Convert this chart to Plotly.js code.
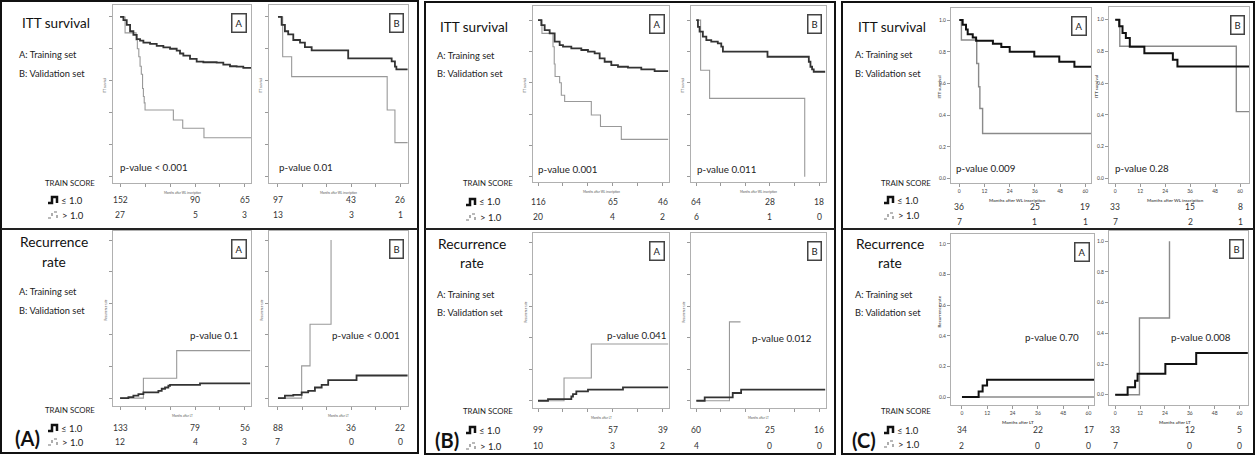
<!DOCTYPE html>
<html><head><meta charset="utf-8">
<script src="https://cdn.plot.ly/plotly-3.0.1.min.js"></script>
<style>html,body{margin:0;padding:0;background:#fff}#chart{width:1256px;height:456px}</style>
</head><body><div id="chart"></div>
<script>
// ---------- DATA ----------
const riskTimes = [0, 36, 60];
const xTicks = [0, 12, 24, 36, 48, 60];
const yTicks = [0, 0.2, 0.4, 0.6, 0.8, 1.0];

// Panel (A)
const A_itt_trn_le_t = [0,1.6,3.2,4.8,6.4,8,9.6,11.2,14.4,17.6,20.8,24,27.2,28.8,30.4,33.6,36.8,40,46.4,49.6,52.8,56,59.2,63];
const A_itt_trn_le_s = [1,0.98,0.95,0.91,0.887,0.86,0.851,0.838,0.83,0.818,0.809,0.80,0.788,0.77,0.757,0.736,0.719,0.715,0.713,0.70,0.69,0.687,0.68,0.677];
const A_itt_trn_gt_t = [0,2.4,7.7,8.3,9,9.6,10.2,10.8,11.2,11.6,12,25.6,30.1,40.3,63];
const A_itt_trn_gt_s = [1,0.9,0.855,0.80,0.75,0.69,0.64,0.55,0.50,0.46,0.415,0.352,0.30,0.24,0.24];
const A_itt_val_le_t = [0,1.8,3.4,5.0,7.5,10.8,13.2,16.5,34.4,55.7,57.3,58,63.5];
const A_itt_val_le_s = [1,0.95,0.91,0.89,0.855,0.838,0.81,0.79,0.74,0.72,0.687,0.67,0.67];
const A_itt_val_gt_t = [0,2.3,6.7,53.5,57.3,63.5];
const A_itt_val_gt_s = [1,0.75,0.625,0.415,0.21,0.21];
const A_rec_trn_le_t = [0,4,6.4,8.8,11.2,18.4,20,21.6,23.2,24,38.4,62.5];
const A_rec_trn_le_s = [0,0.006,0.015,0.025,0.036,0.046,0.059,0.067,0.078,0.084,0.093,0.093];
const A_rec_trn_gt_t = [0,11.2,27.2,62.5];
const A_rec_trn_gt_s = [0,0.126,0.30,0.30];
const A_rec_val_le_t = [0,3.4,7.5,11.6,14.8,18.1,21.4,24.6,38.5,63.5];
const A_rec_val_le_s = [0,0.015,0.02,0.036,0.046,0.067,0.084,0.114,0.143,0.143];
const A_rec_val_gt_t = [0,11.6,15.7,26];
const A_rec_val_gt_s = [0,0.204,0.467,1.0];
const A_itt_trn_risk_le = [152,90,65], A_itt_trn_risk_gt = [27,5,3];
const A_itt_val_risk_le = [97,43,26],  A_itt_val_risk_gt = [13,3,1];
const A_rec_trn_risk_le = [133,79,56], A_rec_trn_risk_gt = [12,4,3];
const A_rec_val_risk_le = [88,36,22],  A_rec_val_risk_gt = [7,0,0];

// Panel (B)
const B_itt_trn_le_t = [0,1.6,3.2,5.6,8,10.4,12,16,20.8,24,27.2,29.6,32,35.2,38.4,43.2,49.6,56,62.5];
const B_itt_trn_le_s = [1,0.968,0.936,0.915,0.862,0.84,0.83,0.819,0.809,0.798,0.787,0.755,0.734,0.713,0.702,0.696,0.685,0.674,0.674];
const B_itt_trn_gt_t = [0,1.9,7.2,7.8,8.2,10.4,11.2,12.8,25.6,30,40,62.5];
const B_itt_trn_gt_s = [1,0.915,0.83,0.72,0.64,0.60,0.52,0.48,0.394,0.32,0.238,0.238];
const B_itt_val_le_t = [0,0.8,1.6,3.2,4.9,7.3,10.5,12.2,13,34.8,55,55.8,56.6,57.4,63];
const B_itt_val_le_s = [1,0.957,0.926,0.894,0.872,0.862,0.851,0.83,0.798,0.766,0.734,0.702,0.685,0.67,0.67];
const B_itt_val_gt_t = [0,2.1,6.5,53];
const B_itt_val_gt_s = [1,0.68,0.5,0.0];
const B_rec_trn_le_t = [0,4.8,16,16.8,18.4,24,40.8,62.5];
const B_rec_trn_le_s = [0,0.01,0.027,0.042,0.059,0.07,0.085,0.085];
const B_rec_trn_gt_t = [0,12.5,25.6,62.5];
const B_rec_trn_gt_s = [0,0.144,0.36,0.36];
const B_rec_val_le_t = [0,4.1,17.8,21.9,63];
const B_rec_val_le_s = [0,0.021,0.049,0.07,0.07];
const B_rec_val_gt_t = [0,16.2,21.6];
const B_rec_val_gt_s = [0,0.5,0.5];
const B_itt_trn_risk_le = [116,65,46], B_itt_trn_risk_gt = [20,4,2];
const B_itt_val_risk_le = [64,28,18],  B_itt_val_risk_gt = [6,1,0];
const B_rec_trn_risk_le = [99,57,39],  B_rec_trn_risk_gt = [10,3,2];
const B_rec_val_risk_le = [60,25,16],  B_rec_val_risk_gt = [4,0,0];

// Panel (C)
const C_itt_trn_le_t = [0,1.6,3.2,4,6.4,8,16,20,24,35.7,47.6,54.8,62.7];
const C_itt_trn_le_s = [1,0.97,0.94,0.91,0.89,0.87,0.85,0.83,0.80,0.77,0.737,0.705,0.705];
const C_itt_trn_gt_t = [0,1.0,8.3,9.2,9.8,11.1,62.7];
const C_itt_trn_gt_s = [1,0.874,0.726,0.579,0.442,0.284,0.284];
const C_itt_val_le_t = [0,1.9,3.5,5.1,7.0,14,27.7,29.9,64.3];
const C_itt_val_le_s = [1,0.958,0.916,0.884,0.83,0.789,0.747,0.705,0.705];
const C_itt_val_gt_t = [0,2.2,58.2,64.3];
const C_itt_val_gt_s = [1,0.832,0.42,0.42];
const C_rec_trn_le_t = [0,7.9,9.8,11.9,62.6];
const C_rec_trn_le_s = [0,0.037,0.076,0.113,0.113];
const C_rec_trn_gt_t = [0,62.6];
const C_rec_trn_gt_s = [0,0];
const C_rec_val_le_t = [0,6.0,9.6,10.8,24.2,39.1,64];
const C_rec_val_le_s = [0,0.048,0.091,0.137,0.2,0.272,0.272];
const C_rec_val_gt_t = [0,11.7,26.2];
const C_rec_val_gt_s = [0,0.5,1.0];
const C_itt_trn_risk_le = [36,25,19], C_itt_trn_risk_gt = [7,1,1];
const C_itt_val_risk_le = [33,15,8],  C_itt_val_risk_gt = [7,2,1];
const C_rec_trn_risk_le = [34,22,17], C_rec_trn_risk_gt = [2,0,0];
const C_rec_val_risk_le = [33,12,5],  C_rec_val_risk_gt = [7,0,0];

const pValues = ['p-value < 0.001','p-value 0.01','p-value 0.1','p-value < 0.001',
                 'p-value 0.001','p-value 0.011','p-value 0.041','p-value 0.012',
                 'p-value 0.009','p-value 0.28','p-value 0.70','p-value 0.008'];
const setLetters = ['A','B','A','B','A','B','A','B','A','B','A','B'];
const panelLabels = ['(A)','(B)','(C)'];
const blockTitles = ['ITT survival','Recurrence'];
const setLines = ['A: Training set','B: Validation set'];
const scoreTitle = 'TRAIN SCORE';
const groupLabels = ['\u2264 1.0','> 1.0'];
const yTitles = {itt:'ITT survival', rec:'Recurrence rate'};
const xTitles = {itt:'Months after WL inscription', rec:'Months after LT'};

// ---------- LAYOUT GEOMETRY ----------
const W=1256,H=456;
const X=x=>x/W, Y=y=>1-y/H;
const FONT='Lato, "Open Sans", sans-serif';

const plots=[
 {p:0,k:'itt',box:[113,5,251,183],xr:[-3.4,62.9],yr:[-0.044,1.075],le:[A_itt_trn_le_t,A_itt_trn_le_s],gt:[A_itt_trn_gt_t,A_itt_trn_gt_s],risk:[A_itt_trn_risk_le,A_itt_trn_risk_gt],rows:[200,215],pv:[118,167]},
 {p:0,k:'itt',box:[269,5,408,183],xr:[-4.4,63.7],yr:[-0.044,1.075],le:[A_itt_val_le_t,A_itt_val_le_s],gt:[A_itt_val_gt_t,A_itt_val_gt_s],risk:[A_itt_val_risk_le,A_itt_val_risk_gt],rows:[200,215],pv:[277,167]},
 {p:0,k:'rec',box:[113,231,251,406],xr:[-3.4,62.9],yr:[-0.05,1.057],le:[A_rec_trn_le_t,A_rec_trn_le_s],gt:[A_rec_trn_gt_t,A_rec_trn_gt_s],risk:[A_rec_trn_risk_le,A_rec_trn_risk_gt],rows:[428,442],pv:[188,335]},
 {p:0,k:'rec',box:[269,231,408,406],xr:[-4.4,63.7],yr:[-0.05,1.057],le:[A_rec_val_le_t,A_rec_val_le_s],gt:[A_rec_val_gt_t,A_rec_val_gt_s],risk:[A_rec_val_risk_le,A_rec_val_risk_gt],rows:[428,442],pv:[330,335]},
 {p:1,k:'itt',box:[533,6,669,182],xr:[-2.4,62.9],yr:[-0.034,1.09],le:[B_itt_trn_le_t,B_itt_trn_le_s],gt:[B_itt_trn_gt_t,B_itt_trn_gt_s],risk:[B_itt_trn_risk_le,B_itt_trn_risk_gt],rows:[202,217],pv:[536,169]},
 {p:1,k:'itt',box:[691,6,826,182],xr:[-2.6,63.4],yr:[-0.034,1.09],le:[B_itt_val_le_t,B_itt_val_le_s],gt:[B_itt_val_gt_t,B_itt_val_gt_s],risk:[B_itt_val_risk_le,B_itt_val_risk_gt],rows:[202,217],pv:[695,169]},
 {p:1,k:'rec',box:[533,233,669,408],xr:[-2.4,62.9],yr:[-0.046,1.063],le:[B_rec_trn_le_t,B_rec_trn_le_s],gt:[B_rec_trn_gt_t,B_rec_trn_gt_s],risk:[B_rec_trn_risk_le,B_rec_trn_risk_gt],rows:[430,446],pv:[605,335]},
 {p:1,k:'rec',box:[691,233,826,408],xr:[-2.6,63.4],yr:[-0.046,1.063],le:[B_rec_val_le_t,B_rec_val_le_s],gt:[B_rec_val_gt_t,B_rec_val_gt_s],risk:[B_rec_val_risk_le,B_rec_val_risk_gt],rows:[430,446],pv:[750,338]},
 {p:2,k:'itt',box:[951,8,1091,183],xr:[-3.95,62.7],yr:[-0.028,1.076],le:[C_itt_trn_le_t,C_itt_trn_le_s],gt:[C_itt_trn_gt_t,C_itt_trn_gt_s],risk:[C_itt_trn_risk_le,C_itt_trn_risk_gt],rows:[207,222],pv:[954,168]},
 {p:2,k:'itt',box:[1109,7,1249,183],xr:[-3.0,64.3],yr:[-0.03,1.08],le:[C_itt_val_le_t,C_itt_val_le_s],gt:[C_itt_val_gt_t,C_itt_val_gt_s],risk:[C_itt_val_risk_le,C_itt_val_risk_gt],rows:[207,222],pv:[1113,168]},
 {p:2,k:'rec',box:[951,234,1094,405],xr:[-5.2,62.6],yr:[-0.052,1.065],le:[C_rec_trn_le_t,C_rec_trn_le_s],gt:[C_rec_trn_gt_t,C_rec_trn_gt_s],risk:[C_rec_trn_risk_le,C_rec_trn_risk_gt],rows:[430,446],pv:[1023,337]},
 {p:2,k:'rec',box:[1109,231,1248,405],xr:[-3.0,64.1],yr:[-0.067,1.067],le:[C_rec_val_le_t,C_rec_val_le_s],gt:[C_rec_val_gt_t,C_rec_val_gt_s],risk:[C_rec_val_risk_le,C_rec_val_risk_gt],rows:[430,446],pv:[1169,337]}
];

const traces=[], annotations=[], shapes=[];
const layout={width:W,height:H,margin:{l:0,r:0,t:0,b:0},paper_bgcolor:'#fff',plot_bgcolor:'#fff',
  showlegend:false,font:{family:FONT,color:'#222'},annotations,shapes};

function ann(text,x,y,o){annotations.push(Object.assign({text,x:X(x),y:Y(y),xref:'paper',yref:'paper',
  showarrow:false,xanchor:'left',yanchor:'middle',font:{family:FONT,size:10,color:'#222'}},o||{}));}

plots.forEach((pl,i)=>{
  const n=i===0?'':String(i+1);
  const [l,t,r,b]=pl.box;
  const isC=pl.p===2;
  const common={showline:true,mirror:true,linecolor:'#b0b0b0',linewidth:1,ticks:'outside',ticklen:3,
    tickcolor:'#999',tickwidth:1,showgrid:false,zeroline:false,fixedrange:true,
    showticklabels:isC,tickfont:{family:FONT,size:5,color:'#444'}};
  layout['xaxis'+n]=Object.assign({},common,{domain:[X(l),X(r)],range:pl.xr,anchor:'y'+n,tickvals:xTicks});
  layout['yaxis'+n]=Object.assign({},common,{domain:[Y(b),Y(t)],range:pl.yr,anchor:'x'+n,tickvals:yTicks,tickformat:'.1f'});
  const xa='x'+n, ya='y'+n;
  traces.push({x:pl.gt[0],y:pl.gt[1],xaxis:xa,yaxis:ya,type:'scatter',mode:'lines',
    line:{shape:'hv',color:isC?'#8a8a8a':'#999',width:isC?1.4:1.1},hoverinfo:'skip'});
  traces.push({x:pl.le[0],y:pl.le[1],xaxis:xa,yaxis:ya,type:'scatter',mode:'lines',
    line:{shape:'hv',color:isC?'#111':'#333',width:isC?2:1.8},hoverinfo:'skip'});
  // set letter box
  ann(setLetters[i],r-4,t+8,{xanchor:'right',yanchor:'top',font:{family:FONT,size:9.5,color:'#222'},
    bordercolor:'#444',borderwidth:1.5,borderpad:3,bgcolor:'#fff'});
  // p-value
  ann(pValues[i],pl.pv[0],pl.pv[1],{font:{family:FONT,size:9.8,color:'#222'}});
  // numbers at risk (placed on the plot's own x scale)
  pl.risk.forEach((arr,g)=>{
    arr.forEach((v,j)=>{
      annotations.push({text:String(v),x:riskTimes[j],xref:xa,y:Y(pl.rows[g]),yref:'paper',showarrow:false,
        xanchor:'center',yanchor:'middle',font:{family:FONT,size:8.5,color:'#333'}});
    });
  });
  // axis titles
  const yt=yTitles[pl.k], xt=xTitles[pl.k];
  const fs=isC?4.5:3;
  const showY = !(isC && i===11);
  if(showY) ann(isC?'<b>'+yt+'</b>':yt,l-(isC?12:8),(t+b)/2-8,{xanchor:'center',textangle:-90,font:{family:FONT,size:fs,color:'#555'}});
  ann(isC?'<b>'+xt+'</b>':xt,(l+r)/2+(isC?-4:0),b+(isC?17:10),{xanchor:'center',font:{family:FONT,size:fs,color:'#555'}});
});

// panel text blocks
const offs=[0,418,836];
const topY=[[23,54,73],[27,56,74],[27,55,74]];
const botY=[[241,261,291,310],[243,262,294,312],[243,262,294,312]];
const legRows=[[[200,215],[428,442]],[[202,217],[430,446]],[[200,216],[430,444]]];
const scoreY=[[183,410],[183,411],[183,411]];
const labelPos=[[27,438],[447,440],[864,440]];
const iconX=[48,466,884];
for(let p=0;p<3;p++){
  const o=offs[p];
  ann(blockTitles[0],20+o,topY[p][0],{font:{family:FONT,size:13.5,color:'#111'}});
  ann(setLines[0],17+o,topY[p][1],{font:{family:FONT,size:9.3,color:'#222'}});
  ann(setLines[1],17+o,topY[p][2],{font:{family:FONT,size:9.3,color:'#222'}});
  ann(blockTitles[1],54+o,botY[p][0],{xanchor:'center',font:{family:FONT,size:13.8,color:'#111'}});
  ann('rate',54+o,botY[p][1],{xanchor:'center',font:{family:FONT,size:13.8,color:'#111'}});
  ann(setLines[0],17+o,botY[p][2],{font:{family:FONT,size:9.3,color:'#222'}});
  ann(setLines[1],17+o,botY[p][3],{font:{family:FONT,size:9.3,color:'#222'}});
  for(let h=0;h<2;h++){
    ann(scoreTitle,70+o,scoreY[p][h],{xanchor:'center',font:{family:FONT,size:7.8,color:'#222'}});
    const [r1,r2]=legRows[p][h];
    const ix=iconX[p];
    ann(groupLabels[0],ix+11,r1,{font:{family:FONT,size:9.5,color:'#222'}});
    ann(groupLabels[1],ix+12,r2,{font:{family:FONT,size:9.5,color:'#222'}});
    const path=(x0,y0)=>`M${X(x0)},${Y(y0+3)} L${X(x0+4)},${Y(y0+3)} L${X(x0+4)},${Y(y0-3)} L${X(x0+9)},${Y(y0-3)} L${X(x0+9)},${Y(y0+3)}`;
    shapes.push({type:'path',xref:'paper',yref:'paper',path:path(ix,r1),line:{color:'#111',width:2.5}});
    shapes.push({type:'path',xref:'paper',yref:'paper',path:path(ix,r2),line:{color:'#777',width:1.2,dash:'dot'}});
  }
  ann('<b>'+panelLabels[p]+'</b>',labelPos[p][0],labelPos[p][1],{xanchor:'center',font:{family:FONT,size:20,color:'#111'}});
}

// panel frames and dividers
const frames=[[1,1,418,453],[425,2,835,454],[842,2,1254,454]];
frames.forEach(f=>{
  shapes.push({type:'rect',xref:'paper',yref:'paper',x0:X(f[0]),x1:X(f[2]),y0:Y(f[3]),y1:Y(f[1]),line:{color:'#111',width:2}});
  shapes.push({type:'line',xref:'paper',yref:'paper',x0:X(f[0]),x1:X(f[2]),y0:Y(229),y1:Y(229),line:{color:'#222',width:2}});
});

Plotly.newPlot('chart',traces,layout,{staticPlot:true,displayModeBar:false});
</script></body></html>
